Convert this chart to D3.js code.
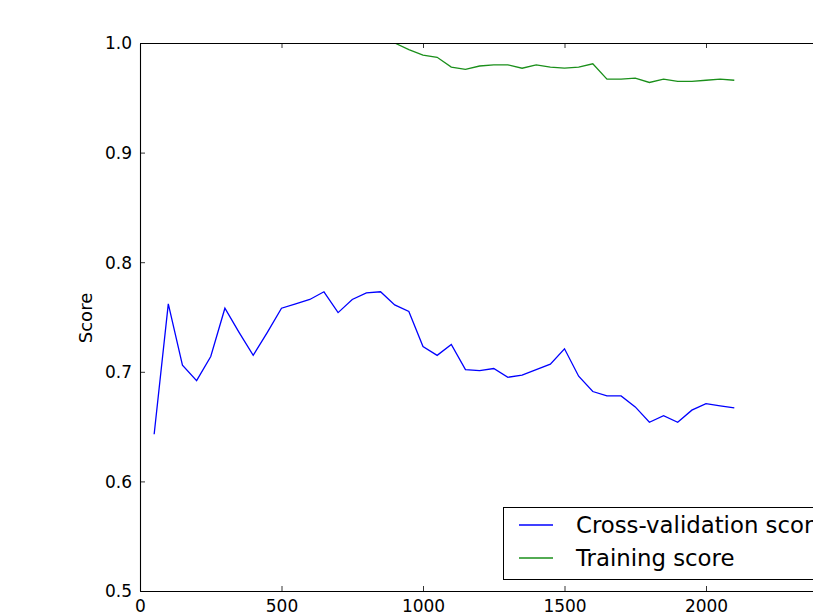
<!DOCTYPE html>
<html>
<head>
<meta charset="utf-8">
<script src="https://cdnjs.cloudflare.com/ajax/libs/d3/7.8.5/d3.min.js"></script>
<style>
  body { margin: 0; background: #fff; overflow: hidden; }
  svg { display: block; font-family: "DejaVu Sans", sans-serif; }
</style>
</head>
<body>
<svg id="chart" width="813" height="616"></svg>
<script>
// training set sizes (every 50 samples)
const trainSizes = d3.range(50, 2101, 50);

const cvScores = [
  0.643, 0.762, 0.706, 0.692, 0.714, 0.758, 0.736, 0.715, 0.736, 0.758,
  0.762, 0.766, 0.773, 0.754, 0.766, 0.772, 0.773, 0.761, 0.755, 0.723,
  0.715, 0.725, 0.702, 0.701, 0.703, 0.695, 0.697, 0.702, 0.707, 0.721,
  0.696, 0.682, 0.678, 0.678, 0.668, 0.654, 0.660, 0.654, 0.665, 0.671,
  0.669, 0.667
];

const trainScores = [
  1.0, 1.0, 1.0, 1.0, 1.0, 1.0, 1.0, 1.0, 1.0, 1.0,
  1.0, 1.0, 1.0, 1.0, 1.0, 1.0, 1.0, 1.0, 0.994, 0.989,
  0.987, 0.978, 0.976, 0.979, 0.980, 0.980, 0.977, 0.980, 0.978, 0.977,
  0.978, 0.981, 0.967, 0.967, 0.968, 0.964, 0.967, 0.965, 0.965, 0.966,
  0.967, 0.966
];

const xTicks = [0, 500, 1000, 1500, 2000, 2500];
const yTicks = [0.5, 0.6, 0.7, 0.8, 0.9, 1.0];

const legendItems = [
  { label: "Cross-validation score", color: "#0000ff" },
  { label: "Training score", color: "#1a8f1a" }
];

const svg = d3.select("#chart");
const plotLeft = 140, plotRight = 847.5, plotTop = 43, plotBottom = 591;

const x = d3.scaleLinear().domain([0, 2500]).range([plotLeft, plotRight]);
const y = d3.scaleLinear().domain([0.5, 1.0]).range([plotBottom, plotTop]);

// clip for the data lines
svg.append("clipPath").attr("id", "plotClip")
  .append("rect")
  .attr("x", plotLeft).attr("y", plotTop)
  .attr("width", plotRight - plotLeft).attr("height", plotBottom - plotTop);

const line = d3.line()
  .x((d, i) => x(trainSizes[i]))
  .y(d => y(d));

const plot = svg.append("g").attr("clip-path", "url(#plotClip)");

plot.append("path")
  .datum(trainScores)
  .attr("d", line)
  .attr("fill", "none")
  .attr("stroke", legendItems[1].color)
  .attr("stroke-width", 1.3);

plot.append("path")
  .datum(cvScores)
  .attr("d", line)
  .attr("fill", "none")
  .attr("stroke", legendItems[0].color)
  .attr("stroke-width", 1.3);

// axes: ticks pointing inward; the 2500 label falls outside the window
const xAxis = svg.append("g").attr("transform", `translate(0,${plotBottom})`)
  .call(d3.axisBottom(x).tickValues(xTicks).tickSizeInner(-5).tickSizeOuter(0).tickPadding(9)
    .tickFormat(d => d < 2500 ? d3.format("d")(d) : ""));
const xAxisTop = svg.append("g").attr("transform", `translate(0,${plotTop})`)
  .call(d3.axisTop(x).tickValues(xTicks).tickSizeInner(-5).tickSizeOuter(0).tickFormat(""));
const yAxis = svg.append("g").attr("transform", `translate(${plotLeft},0)`)
  .call(d3.axisLeft(y).tickValues(yTicks).tickSizeInner(-5).tickSizeOuter(0).tickPadding(8)
    .tickFormat(d3.format(".1f")));
const yAxisRight = svg.append("g").attr("transform", `translate(${plotRight},0)`)
  .call(d3.axisRight(y).tickValues(yTicks).tickSizeInner(-5).tickSizeOuter(0).tickFormat(""));

[xAxis, xAxisTop, yAxis, yAxisRight].forEach(g => {
  g.select(".domain").attr("stroke", "#000").attr("stroke-width", 1.1);
  g.selectAll(".tick line").attr("stroke", "#000").attr("stroke-width", 0.8);
  g.selectAll(".tick text")
    .attr("font-family", "DejaVu Sans")
    .attr("font-size", 17)
    .attr("fill", "#000");
});
yAxis.selectAll(".tick text").attr("dy", "0.35em");

// y label
svg.append("text")
  .attr("transform", `translate(85,${(plotTop + plotBottom) / 2 + 1}) rotate(-90)`)
  .attr("text-anchor", "middle")
  .attr("dominant-baseline", "central")
  .attr("font-size", 18)
  .text("Score");

// legend
const legend = svg.append("g");
legend.append("rect")
  .attr("x", 503.5).attr("y", 507.5)
  .attr("width", 400).attr("height", 72)
  .attr("fill", "#fff")
  .attr("stroke", "#000")
  .attr("stroke-width", 1);

legendItems.forEach((item, i) => {
  const ly = 525 + i * 33;
  legend.append("line")
    .attr("x1", 519).attr("x2", 553)
    .attr("y1", ly).attr("y2", ly)
    .attr("stroke", item.color)
    .attr("stroke-width", 1.3);
  legend.append("text")
    .attr("x", 576)
    .attr("y", ly)
    .attr("dominant-baseline", "central")
    .attr("font-size", 22.8)
    .text(item.label);
});
</script>
</body>
</html>
